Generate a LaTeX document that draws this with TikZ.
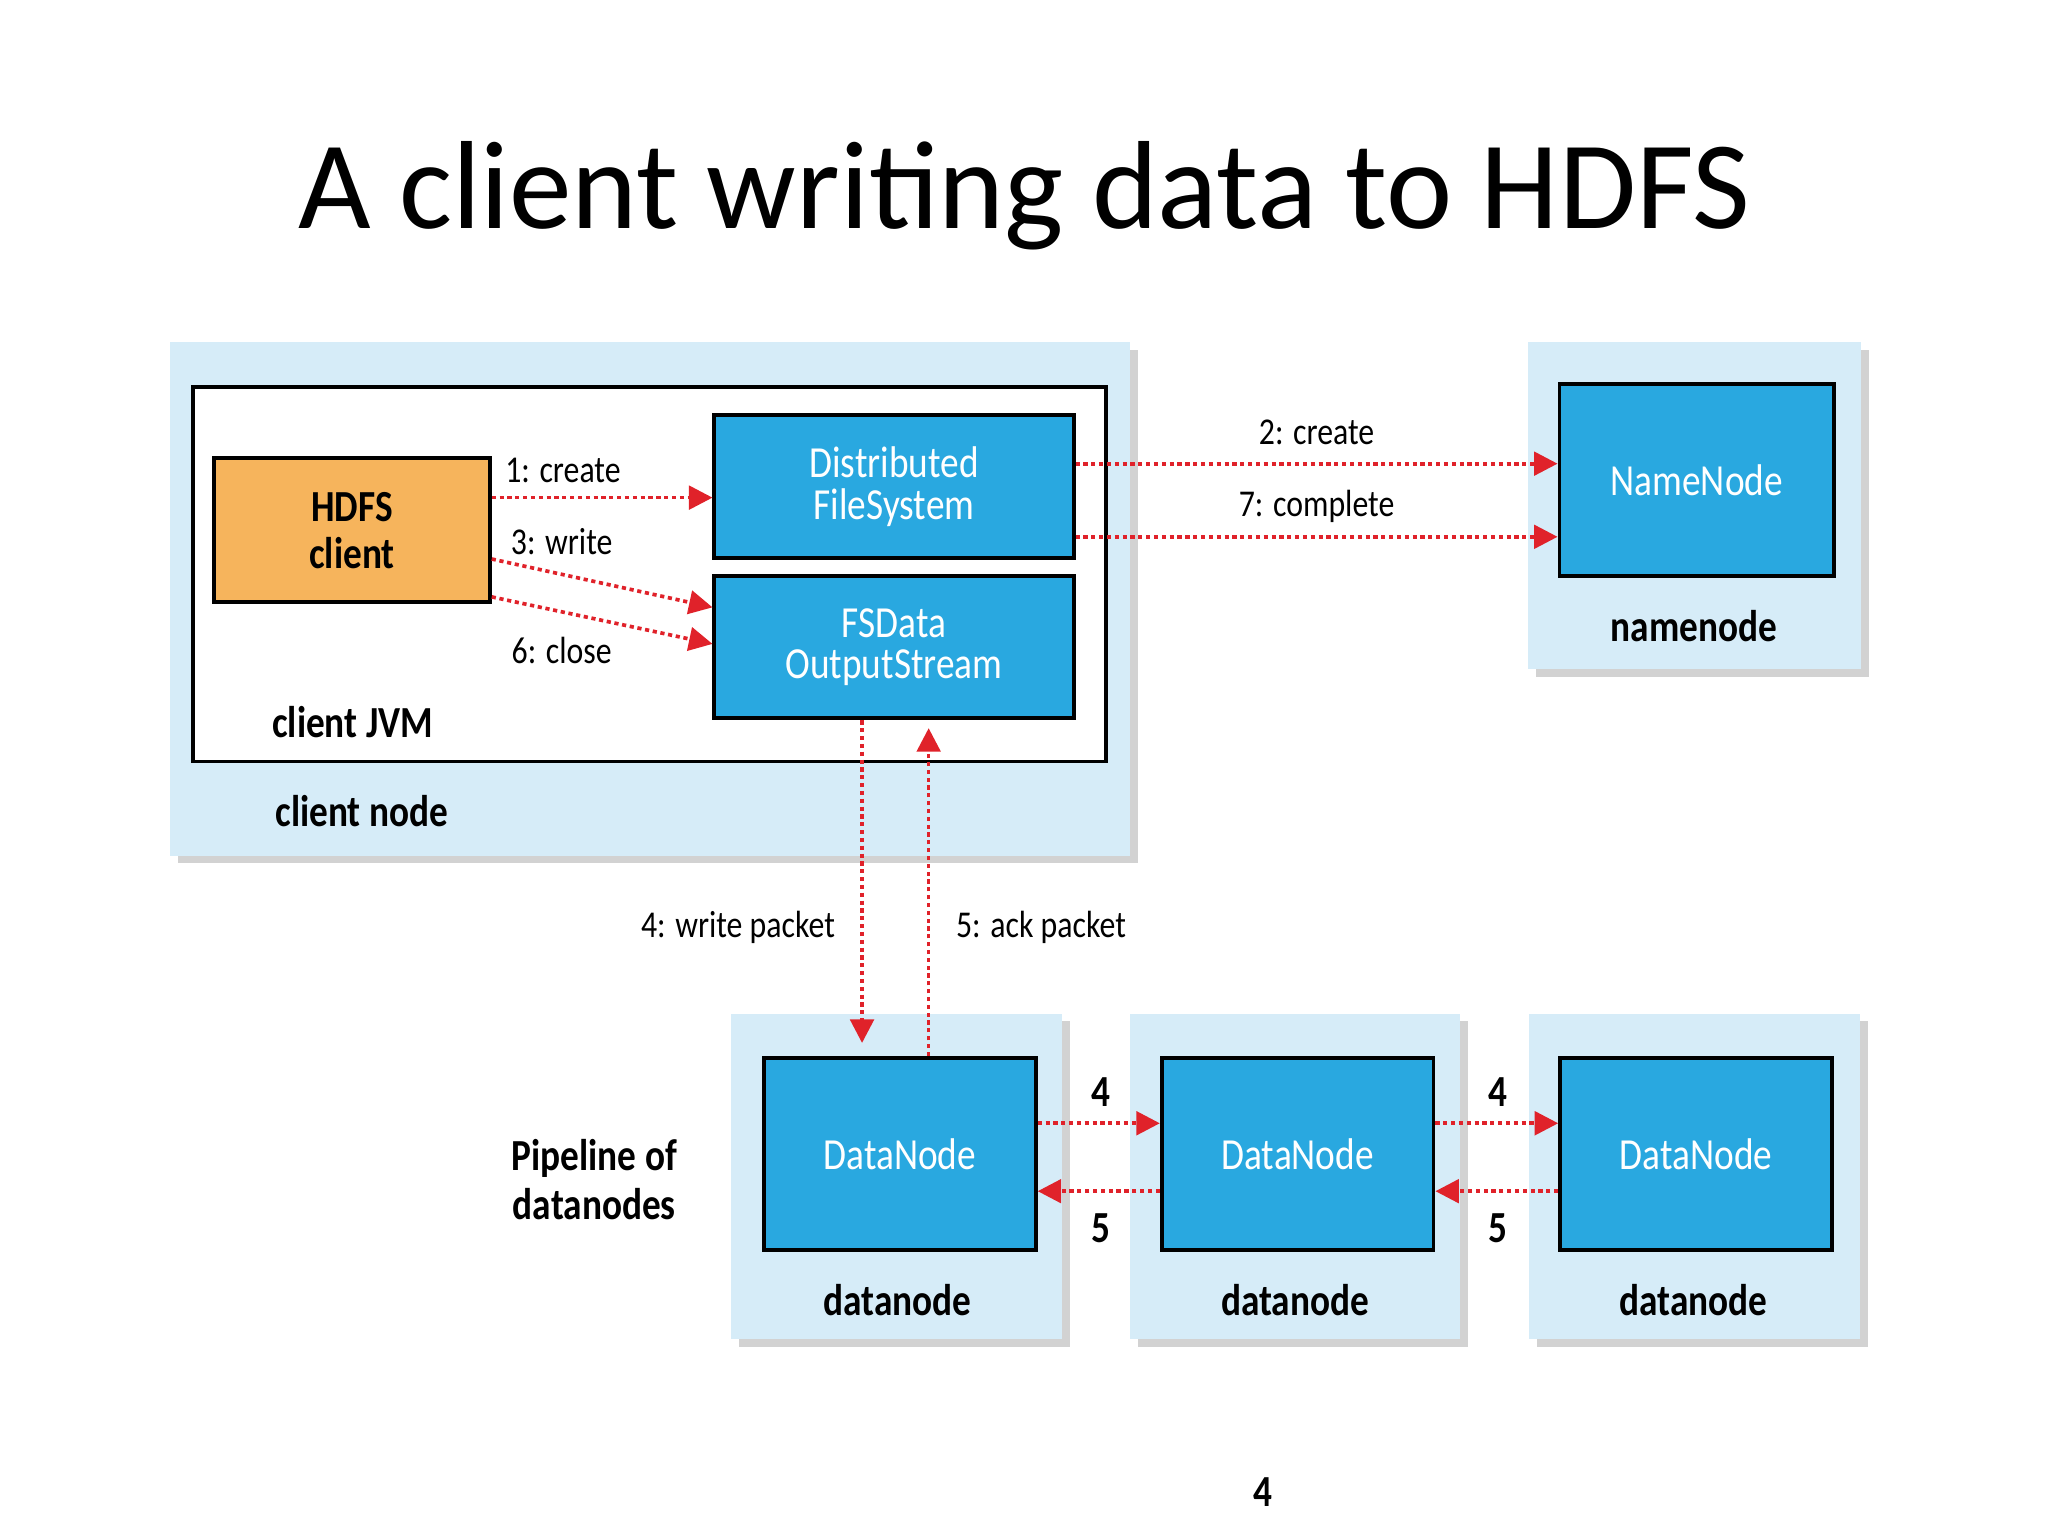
\documentclass[tikz,border=0pt]{standalone}
\usepackage{fontspec}
\setmainfont{Carlito}
\newfontfamily\cond{Carlito}[FakeStretch=0.84]
\usetikzlibrary{shadows,arrows.meta}
\definecolor{panel}{HTML}{D6ECF8}
\definecolor{boxblue}{HTML}{29A8E0}
\definecolor{orng}{HTML}{F6B45C}
\definecolor{arrred}{HTML}{E0222A}
\begin{document}
\begin{tikzpicture}[x=0.5pt,y=-0.5pt,
  panelst/.style={draw=none,fill=panel,drop shadow={shadow xshift=3pt,shadow yshift=-3pt,opacity=0.35},inner sep=0},
  box/.style={draw=black,line width=1.5pt,fill=boxblue,text=white,font=\cond\fontsize{17}{16}\selectfont,align=center,inner sep=0},
  arr/.style={arrred,line width=1.4pt,dash pattern=on 1.6pt off 1.4pt,-{Triangle[length=9pt,width=9pt,fill=arrred]}},
  lbl/.style={font=\cond\fontsize{14.5}{15}\selectfont,inner sep=0},
  blbl/.style={font=\cond\bfseries\fontsize{17}{19}\selectfont,inner sep=0,align=center}]
\useasboundingbox (0,0) rectangle (1568,1176);
\fill[white] (0,0) rectangle (1568,1176);
\node[font=\fontsize{48}{48}\selectfont] (title) at (784,150) {A client writing data to HDFS};
% panels
\node[panelst,minimum width=367.5pt,minimum height=196.5pt] (cnp) at (497.5,458.5) {};
\node[draw=black,line width=1.5pt,fill=white,minimum width=349.5pt,minimum height=143.5pt,inner sep=0] (jvm) at (497.5,439.5) {};
\node[panelst,minimum width=127.5pt,minimum height=125pt] (nnp) at (1297.5,387) {};
\foreach \i/\x in {1/686.5,2/991.5,3/1297.5}{
  \node[panelst,minimum width=126.5pt,minimum height=124.5pt] (dp\i) at (\x,900.5) {};
}
% boxes
\node[box,fill=orng,text=black,font=\cond\bfseries\fontsize{17}{18}\selectfont,minimum width=105.5pt,minimum height=55pt] (hc) at (269.5,406) {HDFS\\client};
\node[box,minimum width=137.5pt,minimum height=54.5pt] (dfs) at (684.5,372.5) {Distributed\\FileSystem};
\node[box,minimum width=137.5pt,minimum height=54.5pt] (fs) at (684.5,495.5) {FSData\\OutputStream};
\node[box,minimum width=105pt,minimum height=73.5pt] (nn) at (1299,367.5) {NameNode};
\foreach \i/\x in {1/689,2/993.5,3/1298.5}{
  \node[box,minimum width=104pt,minimum height=73.5pt] (dn\i) at (\x,883.5) {DataNode};
  \node[blbl] (dl\i) at (\x-2,995) {datanode};
}
\node[blbl] (jvml) at (270,553) {client JVM};
\node[blbl] (cnl) at (277,621) {client node};
\node[blbl] (nnl) at (1297,479) {namenode};
\node[blbl,align=center] (pipe) at (455,903) {Pipeline of\\datanodes};
% arrows
\draw[arr] ([yshift=12.5pt]hc.east) -- ([yshift=12.5pt]hc.east -| dfs.west);
\draw[arr] ([yshift=-11pt]hc.east) -- ([yshift=15.25pt]fs.west);
\draw[arr] ([yshift=-25.5pt]hc.east) -- ([yshift=1.25pt]fs.west);
\draw[arr] ([yshift=8.75pt]dfs.east) -- ([yshift=8.75pt]dfs.east -| nn.west);
\draw[arr] ([yshift=-19.25pt]dfs.east) -- ([yshift=-19.25pt]dfs.east -| nn.west);
\draw[arr,shorten >=5pt] ([xshift=-12.25pt]fs.south) -- ([xshift=-12.25pt]fs.south |- dn1.north);
\draw[arr,shorten >=3pt] ([xshift=11pt]dn1.north) -- ([xshift=11pt]dn1.north |- fs.south);
\draw[arr] ([yshift=11.75pt]dn1.east) -- ([yshift=11.75pt]dn1.east -| dn2.west);
\draw[arr] ([yshift=-14.25pt]dn2.west) -- ([yshift=-14.25pt]dn2.west -| dn1.east);
\draw[arr] ([yshift=11.75pt]dn2.east) -- ([yshift=11.75pt]dn2.east -| dn3.west);
\draw[arr] ([yshift=-14.25pt]dn3.west) -- ([yshift=-14.25pt]dn3.west -| dn2.east);
% labels
\node[lbl] (l1) at (431,360) {1: create};
\node[lbl] (l3) at (430,415) {3: write};
\node[lbl] (l6) at (430,498) {6: close};
\node[lbl] (l2) at (1008,331) {2: create};
\node[lbl] (l7) at (1008,388) {7: complete};
\node[lbl] (l4) at (565,710) {4: write packet};
\node[lbl] (l5) at (797,710) {5: ack packet};
\node[blbl] (a4) at (843,836) {4};
\node[blbl] (a5) at (843,940) {5};
\node[blbl] (b4) at (1147,836) {4};
\node[blbl] (b5) at (1147,940) {5};
\node[blbl] (pg) at (967,1142) {4};
\end{tikzpicture}
\end{document}
